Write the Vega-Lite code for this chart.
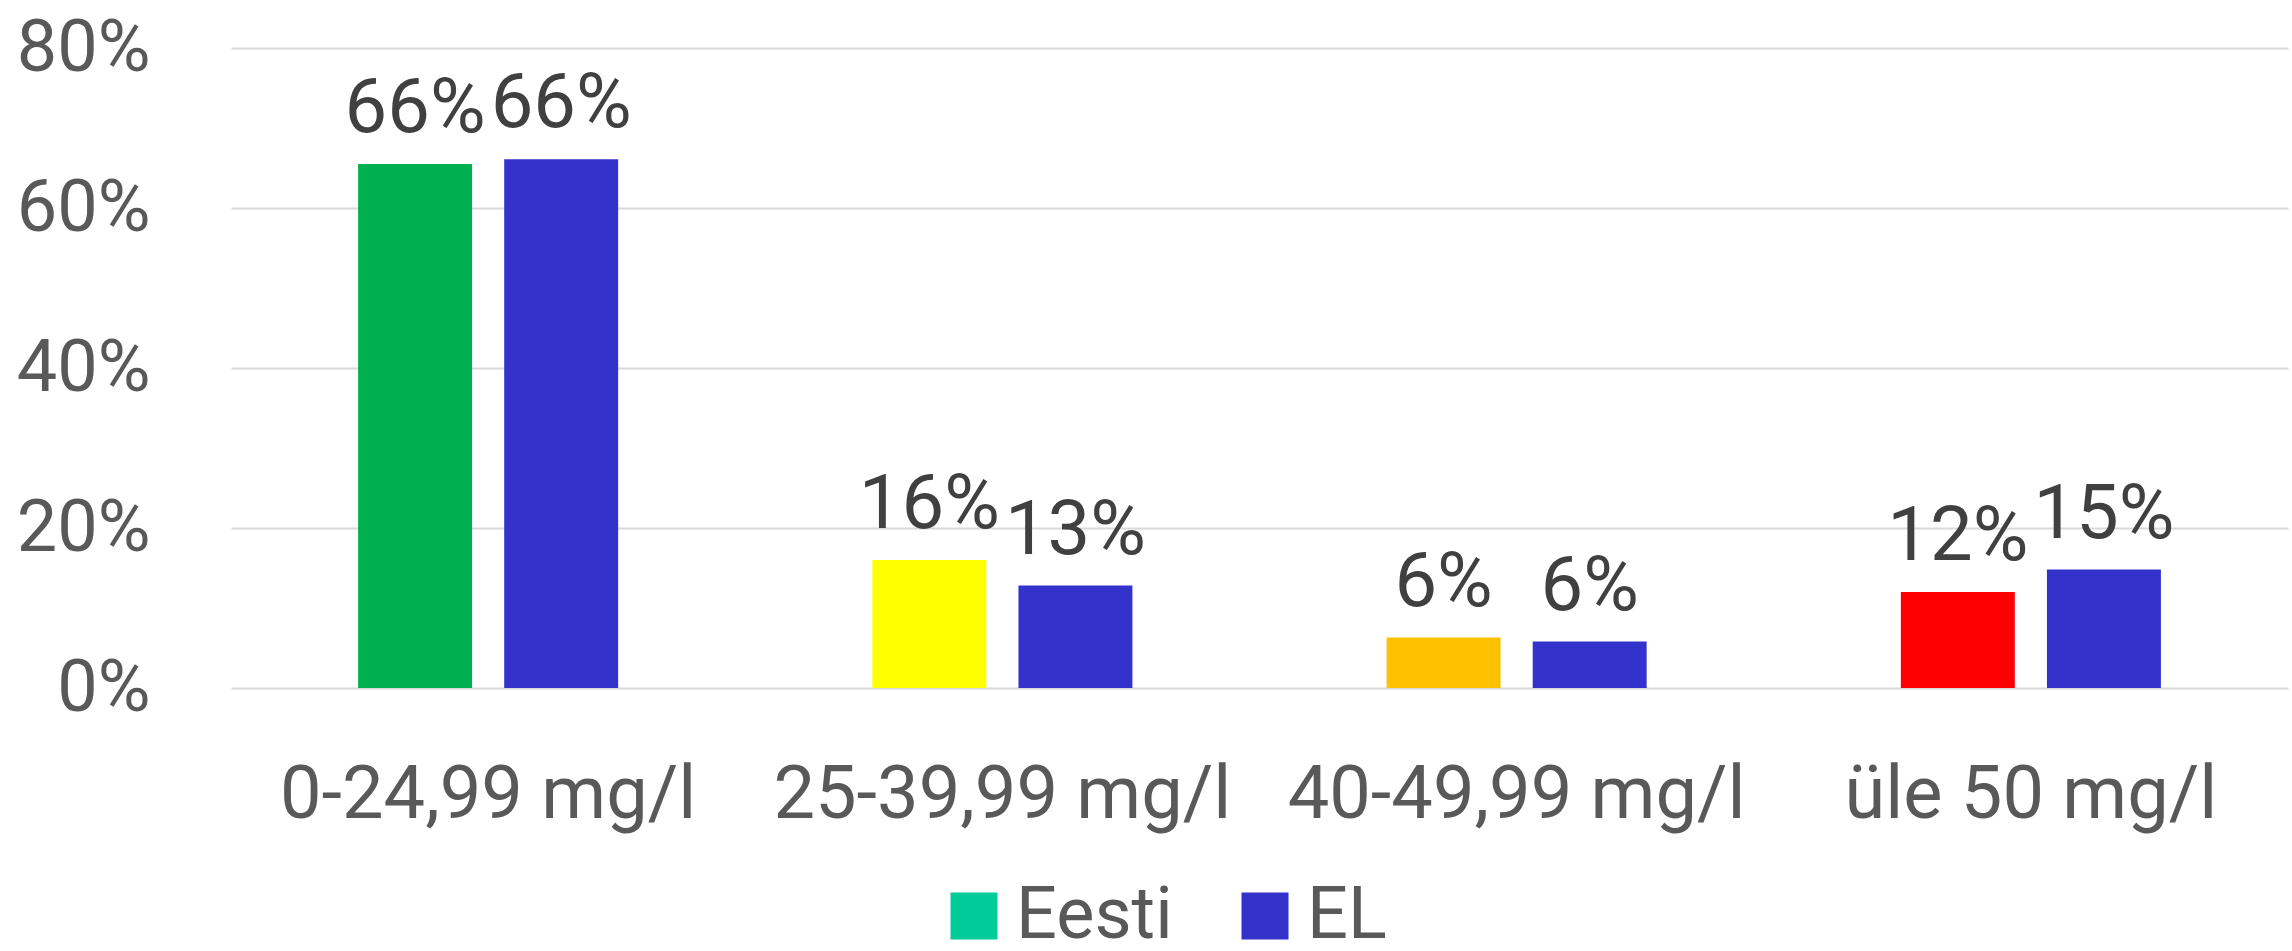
{
  "$schema": "https://vega.github.io/schema/vega-lite/v6.json",
  "width": 2057,
  "height": 640,
  "autosize": {"type": "none"},
  "padding": {"left": 231, "top": 48, "right": 4, "bottom": 263},
  "background": "white",
  "config": {"view": {"stroke": null}, "font": "Roboto"},
  "data": {
    "values": [
      {"kategooria": "0-24,99 mg/l", "seeria": "Eesti", "osakaal": 0.655},
      {"kategooria": "0-24,99 mg/l", "seeria": "EL", "osakaal": 0.661},
      {"kategooria": "25-39,99 mg/l", "seeria": "Eesti", "osakaal": 0.16},
      {"kategooria": "25-39,99 mg/l", "seeria": "EL", "osakaal": 0.128},
      {"kategooria": "40-49,99 mg/l", "seeria": "Eesti", "osakaal": 0.063},
      {"kategooria": "40-49,99 mg/l", "seeria": "EL", "osakaal": 0.058},
      {"kategooria": "üle 50 mg/l", "seeria": "Eesti", "osakaal": 0.12},
      {"kategooria": "üle 50 mg/l", "seeria": "EL", "osakaal": 0.148}
    ]
  },
  "encoding": {
    "x": {
      "field": "kategooria", "type": "nominal", "sort": null,
      "scale": {"paddingInner": 0, "paddingOuter": 0},
      "axis": {"title": null, "labelAngle": 0, "domain": false, "ticks": false, "labelFontSize": 74, "labelColor": "#595959", "labelPadding": 71, "labelFont": "Roboto", "labelLimit": 0}
    },
    "xOffset": {"field": "seeria", "type": "nominal", "sort": ["Eesti", "EL"], "scale": {"paddingInner": 0.22, "paddingOuter": 0.87}},
    "y": {
      "field": "osakaal", "type": "quantitative",
      "scale": {"domain": [0, 0.8], "nice": false},
      "axis": {"title": null, "values": [0, 0.2, 0.4, 0.6, 0.8], "format": ".0%", "domain": false, "ticks": false, "labelFontSize": 72, "labelColor": "#595959", "labelPadding": 81, "labelOverlap": false, "labelFont": "Roboto", "gridColor": "#D9D9D9", "gridWidth": 2}
    }
  },
  "layer": [
    {
      "mark": {"type": "bar"},
      "encoding": {
        "color": {
          "field": "seeria", "type": "nominal",
          "scale": {"domain": ["Eesti", "EL"], "range": ["#00CC99", "#3333CC"]},
          "condition": [
            {"test": "datum.seeria === 'Eesti' && datum.kategooria === '0-24,99 mg/l'", "value": "#00B050"},
            {"test": "datum.seeria === 'Eesti' && datum.kategooria === '25-39,99 mg/l'", "value": "#FFFF00"},
            {"test": "datum.seeria === 'Eesti' && datum.kategooria === '40-49,99 mg/l'", "value": "#FFC000"},
            {"test": "datum.seeria === 'Eesti' && datum.kategooria === 'üle 50 mg/l'", "value": "#FF0000"}
          ],
          "legend": {"title": null, "orient": "none", "legendX": 707, "legendY": 832, "direction": "horizontal", "padding": 0, "symbolType": "square", "symbolSize": 2209, "symbolStrokeWidth": 0, "symbolOpacity": 1, "labelFontSize": 72, "labelColor": "#595959", "labelFont": "Roboto", "labelOffset": 6, "columnPadding": 56}
        }
      }
    },
    {
      "mark": {"type": "text", "baseline": "alphabetic", "dy": -32, "fontSize": 76, "color": "#404040", "font": "Roboto"},
      "encoding": {"text": {"field": "osakaal", "type": "quantitative", "format": ".0%"}}
    }
  ]
}
